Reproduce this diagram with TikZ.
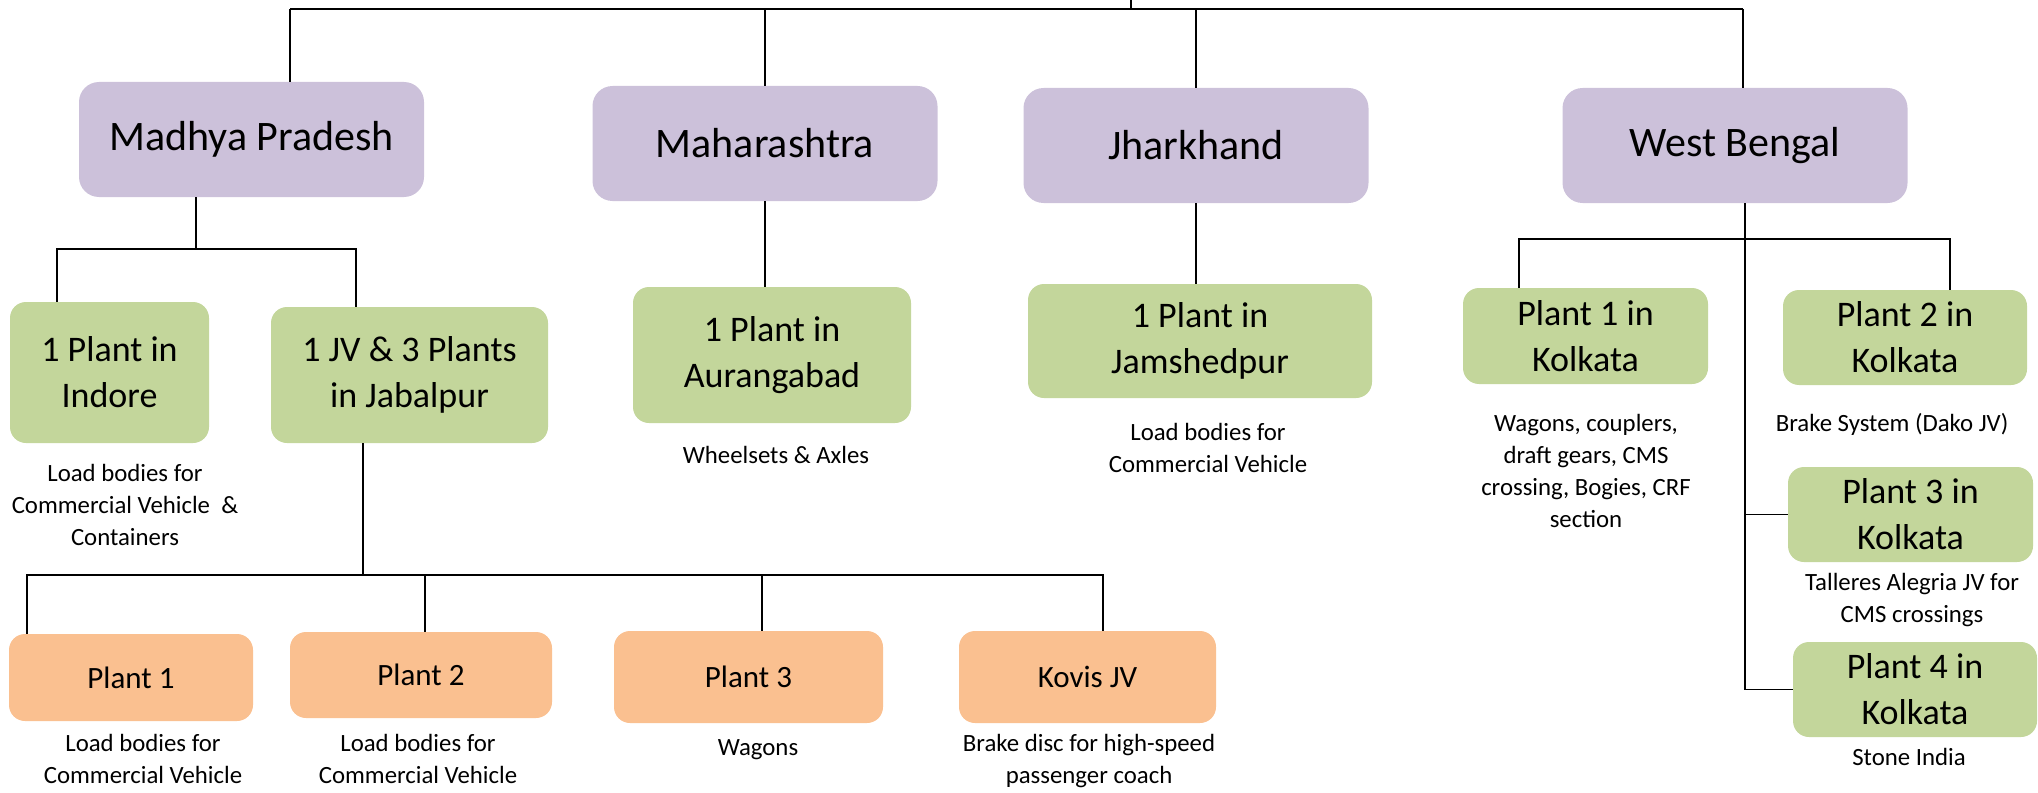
\documentclass[tikz,border=0pt]{standalone}
\usepackage{fontspec}
\setmainfont{Carlito}
\usetikzlibrary{positioning}
\definecolor{regionfill}{HTML}{CCC1DA}
\definecolor{plantfill}{HTML}{C3D69B}
\definecolor{unitfill}{HTML}{FAC090}
\tikzset{
region/.style={rounded corners=10pt, fill=regionfill, inner sep=0pt, minimum width=172.5pt, minimum height=57.5pt, font=\fontsize{21}{25}\selectfont}, % the four states
plant/.style={rounded corners=8pt, fill=plantfill, inner sep=0pt, align=center, font=\fontsize{18}{23}\selectfont}, % plants of each state
unit/.style={rounded corners=8pt, fill=unitfill, inner sep=0pt, font=\fontsize{15.5}{19}\selectfont}, % plants in Jabalpur
note/.style={inner sep=0pt, align=center, font=\fontsize{12.4}{16}\selectfont}, % what is made there
link/.style={line width=0.9pt}, % the tree lines
}

\begin{document}
\begin{tikzpicture}[x=0.5pt, y=-0.5pt]
    \useasboundingbox (0,0) rectangle (2038,792);

    % states
    \node[region] (MP) at (251.5,139.5) {Madhya Pradesh};
    \node[region] (MH) at (765,143.5) {Maharashtra};
    \node[region] (JH) at (1196,145.5) {Jharkhand};
    \node[region] (WB) at (1735,145.5) {West Bengal};

    % plants
    \node[plant, minimum width=99.5pt, minimum height=70.5pt] (indore) at (109.5,372.5) {1 Plant in\\Indore};
    \node[plant, minimum width=138.5pt, minimum height=68pt] (jabalpur) at (409.5,375) {1 JV \& 3 Plants\\in Jabalpur};
    \node[plant, minimum width=139pt, minimum height=68pt] (aurangabad) at (772,355) {1 Plant in\\Aurangabad};
    \node[plant, minimum width=172pt, minimum height=57pt] (jamshedpur) at (1200,341) {1 Plant in\\Jamshedpur};
    \node[plant, minimum width=122.5pt, minimum height=48pt] (kolkataA) at (1585.5,336) {Plant 1 in\\Kolkata};
    \node[plant, minimum width=122pt, minimum height=47.5pt] (kolkataB) at (1905,337.5) {Plant 2 in\\Kolkata};
    \node[plant, minimum width=122.5pt, minimum height=47.5pt] (kolkataC) at (1910.5,514.5) {Plant 3 in\\Kolkata};
    \node[plant, minimum width=122pt, minimum height=47.5pt] (kolkataD) at (1915,689.5) {Plant 4 in\\Kolkata};

    \node[unit, minimum width=122pt, minimum height=43.5pt] (plantA) at (131,677.5) {Plant 1};
    \node[unit, minimum width=131pt, minimum height=43pt] (plantB) at (421,675) {Plant 2};
    \node[unit, minimum width=134.5pt, minimum height=46pt] (plantC) at (748.5,677) {Plant 3};
    \node[unit, minimum width=128.5pt, minimum height=46pt] (kovis) at (1087.5,677) {Kovis JV};

    % products
    \node[note] (indoreTxt) at (125,505) {Load bodies for\\Commercial Vehicle\ \ \&\\Containers};
    \node[note] (aurangabadTxt) at (776,455) {Wheelsets \& Axles};
    \node[note] (jamshedpurTxt) at (1208,447.5) {Load bodies for\\Commercial Vehicle};
    \node[note] (kolkataATxt) at (1586,471) {Wagons, couplers,\\draft gears, CMS\\crossing, Bogies, CRF\\section};
    \node[note] (kolkataBTxt) at (1892,424) {Brake System (Dako JV)};
    \node[note] (kolkataCTxt) at (1912,600) {Talleres Alegria JV for\\CMS crossings};
    \node[note] (kolkataDTxt) at (1909,757) {Stone India};
    \node[note] (plantATxt) at (143,759) {Load bodies for\\Commercial Vehicle};
    \node[note] (plantBTxt) at (418,759) {Load bodies for\\Commercial Vehicle};
    \node[note] (plantCTxt) at (758,750) {Wagons};
    \node[note] (kovisTxt) at (1089,761.5) {Brake disc for high-speed\\passenger coach};

    % tree lines
    \coordinate (root) at (1131,0);
    \coordinate (busL) at (290,9);
    \coordinate (busR) at (1743,9);
    \draw[link] (root) -- (root |- busL);
    \draw[link] (busL) -- (busR);
    \draw[link] (busL) -- (busL |- MP.north);
    \draw[link] (MH.north |- busL) -- (MH.north);
    \draw[link] (JH.north |- busL) -- (JH.north);
    \draw[link] (busR) -- (busR |- WB.north);

    \coordinate (mpDrop) at (196,249);
    \coordinate (mpL) at (57,249);
    \coordinate (mpR) at (356,249);
    \draw[link] (mpDrop |- MP.south) -- (mpDrop);
    \draw[link] (mpL |- indore.north) -- (mpL) -- (mpR) -- (mpR |- jabalpur.north);

    \draw[link] (MH.south) -- (MH.south |- aurangabad.north);
    \draw[link] (JH.south) -- (JH.south |- jamshedpur.north);

    \coordinate (jbDrop) at (363,575);
    \coordinate (jbL) at (27,575);
    \coordinate (jbB) at (425,575);
    \coordinate (jbC) at (762,575);
    \coordinate (jbR) at (1103,575);
    \draw[link] (jbDrop |- jabalpur.south) -- (jbDrop);
    \draw[link] (jbL |- plantA.north) -- (jbL) -- (jbR) -- (jbR |- kovis.north);
    \draw[link] (jbB) -- (jbB |- plantB.north);
    \draw[link] (jbC) -- (jbC |- plantC.north);

    \coordinate (wbDrop) at (1745,239);
    \coordinate (wbL) at (1519,239);
    \coordinate (wbR) at (1950,239);
    \draw[link] (wbDrop |- WB.south) -- (wbDrop |- kolkataD) -- (kolkataD.west);
    \draw[link] (wbDrop |- kolkataC) -- (kolkataC.west);
    \draw[link] (wbL |- kolkataA.north) -- (wbL) -- (wbR) -- (wbR |- kolkataB.north);
\end{tikzpicture}
\end{document}
